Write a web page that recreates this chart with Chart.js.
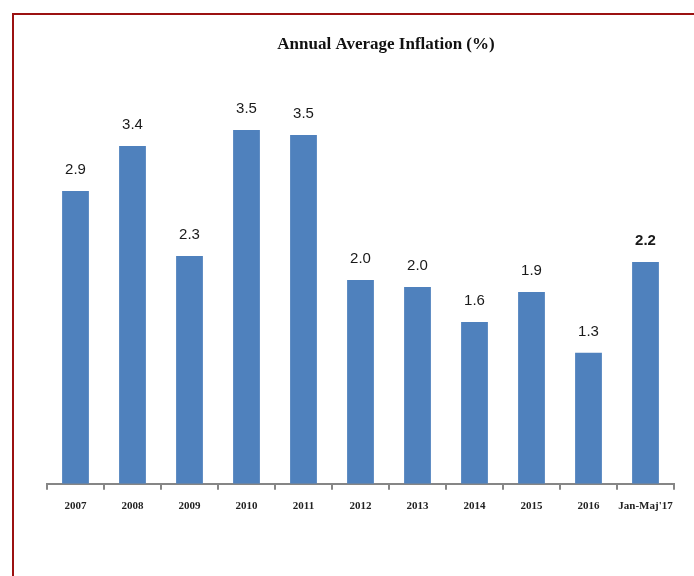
<!DOCTYPE html>
<html>
<head>
<meta charset="utf-8">
<script src="https://cdn.jsdelivr.net/npm/chart.js@4"></script>
<style>
    html, body { margin: 0; padding: 0; background: #fff; }
    #wrap { width: 694px; height: 576px; position: relative; }
</style>
</head>
<body>
<div id="wrap"><canvas id="inflChart" width="694" height="576"></canvas></div>
<script>
var chartTitle = 'Annual Average Inflation (%)';
var years = ['2007', '2008', '2009', '2010', '2011', '2012', '2013', '2014', '2015', '2016', "Jan-Maj'17"];
var inflation = [2.93, 3.38, 2.28, 3.54, 3.49, 2.04, 1.97, 1.62, 1.92, 1.31, 2.22];
var boldLabel = [false, false, false, false, false, false, false, false, false, false, true];

// frame + title drawn on the canvas
var framePlugin = {
    id: 'frame',
    beforeDraw: function (chart) {
        var ctx = chart.ctx;
        ctx.save();
        ctx.strokeStyle = '#9b1111';
        ctx.lineWidth = 2;
        ctx.beginPath();
        ctx.moveTo(13, 590);
        ctx.lineTo(13, 14);
        ctx.lineTo(700, 14);
        ctx.stroke();
        ctx.restore();
    },
    afterDraw: function (chart) {
        var ctx = chart.ctx;
        ctx.save();
        ctx.fillStyle = '#111';
        ctx.font = 'bold 17px "Liberation Serif", serif';
        ctx.textAlign = 'center';
        ctx.textBaseline = 'middle';
        ctx.fillText(chartTitle, 386, 45);
        ctx.restore();
    }
};

// value labels above bars
var valuePlugin = {
    id: 'values',
    afterDatasetsDraw: function (chart) {
        var ctx = chart.ctx;
        var meta = chart.getDatasetMeta(0);
        ctx.save();
        ctx.fillStyle = '#1a1a1a';
        ctx.textAlign = 'center';
        ctx.textBaseline = 'bottom';
        meta.data.forEach(function (bar, i) {
            ctx.font = (boldLabel[i] ? 'bold ' : '') + '15px "Liberation Sans Narrow", "Arial Narrow", sans-serif';
            ctx.fillText(inflation[i].toFixed(1), bar.x, bar.y - 14);
        });
        ctx.restore();
    }
};

var chart = new Chart(document.getElementById('inflChart'), {
    type: 'bar',
    data: {
        labels: years,
        datasets: [{
            label: 'Inflation',
            data: inflation,
            backgroundColor: '#4f81bd',
            borderWidth: 0,
            barPercentage: 0.47,
            categoryPercentage: 1.0
        }]
    },
    options: {
        responsive: false,
        animation: false,
        layout: {
            padding: { left: 47, right: 20, top: 84, bottom: 53 }
        },
        plugins: {
            legend: { display: false },
            title: { display: false },
            tooltip: { enabled: false }
        },
        scales: {
            x: {
                grid: {
                    display: true,
                    drawOnChartArea: false,
                    drawTicks: true,
                    tickLength: 6,
                    color: '#868686',
                    lineWidth: 2,
                    offset: true
                },
                border: { display: true, color: '#868686', width: 2 },
                ticks: {
                    color: '#222',
                    padding: 10,
                    maxRotation: 0,
                    autoSkip: false,
                    font: { family: '"Liberation Serif", serif', size: 11, weight: 'bold' }
                }
            },
            y: {
                display: false,
                min: 0,
                max: 4
            }
        }
    },
    plugins: [framePlugin, valuePlugin]
});
</script>
</body>
</html>
